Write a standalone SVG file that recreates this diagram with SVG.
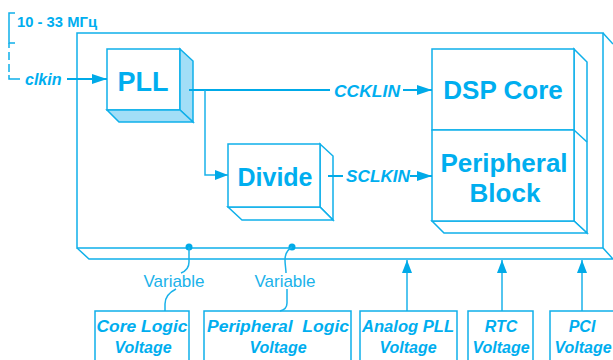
<svg xmlns="http://www.w3.org/2000/svg" width="613" height="360" viewBox="0 0 613 360">
<defs>
<style>
.ln{fill:none;stroke:#0FB0EA;stroke-width:1.5}
.face{fill:#fff;stroke:#0FB0EA;stroke-width:1.5;stroke-linejoin:miter}
.shade{fill:#A2DEF7;stroke:#0FB0EA;stroke-width:1.5}
.cn{fill:none;stroke:#00AAE8;stroke-width:2}
.cn1{fill:none;stroke:#1AB2EA;stroke-width:1.5}
.big{font-family:"Liberation Sans",Arial,sans-serif;font-weight:bold;fill:#00AEEF;text-anchor:middle}
.sig{font-family:"Liberation Sans",Arial,sans-serif;font-weight:bold;font-style:italic;fill:#00AEEF}
.var{font-family:"Liberation Sans",Arial,sans-serif;fill:#1AB2EA;font-size:17px;text-anchor:middle}
.vl{font-family:"Liberation Sans",Arial,sans-serif;font-weight:bold;font-style:italic;fill:#00AEEF;font-size:16px;text-anchor:middle}
</style>
<marker id="ah" markerUnits="userSpaceOnUse" markerWidth="16" markerHeight="12" refX="15" refY="5" orient="auto">
<path d="M0,0 L15,5 L0,10 Z" fill="#00AAE8"/>
</marker>
<marker id="au" markerUnits="userSpaceOnUse" markerWidth="14" markerHeight="12" refX="13" refY="5" orient="auto">
<path d="M0,0 L13,5 L0,10 Z" fill="#00AAE8"/>
</marker>
</defs>
<rect width="613" height="360" fill="#fff"/>

<g id="chip">
<path class="ln" d="M77,33 H603 V248 H77 Z"/>
<path class="ln" d="M603,33 L613,44 M77,248 L89,259 H613 M603,248 L613,259"/>
</g>

<g id="freq">
<path class="ln" d="M15,13 H9 V43 H15"/>
<text class="sig" style="font-style:normal" x="17" y="27" font-size="14" textLength="80" lengthAdjust="spacingAndGlyphs">10 - 33 МГц</text>
</g>

<g id="pll">
<rect class="face" x="107" y="49" width="73" height="61"/>
<polygon class="shade" points="180,49 193,61 193,122 180,110"/>
<polygon class="shade" points="107,110 180,110 193,122 119,122"/>
<text class="big" x="143" y="91" font-size="28" textLength="51" lengthAdjust="spacingAndGlyphs">PLL</text>
</g>

<g id="divide">
<polygon class="face" points="320,144 333,156 333,220 320,207"/>
<polygon class="face" points="228,207 320,207 333,220 242,220"/>
<rect class="face" x="228" y="144" width="92" height="63"/>
<text class="big" x="275" y="186" font-size="25">Divide</text>
</g>

<g id="dsp">
<polygon class="face" points="574,49 587,62 587,233 574,221"/>
<polygon class="face" points="432,221 574,221 587,233 444,233"/>
<path class="ln" d="M574,130 L587,142"/>
<rect class="face" x="432" y="49" width="142" height="81"/>
<text class="big" x="503" y="99" font-size="26">DSP Core</text>
</g>

<g id="peripheral">
<rect class="face" x="432" y="130" width="142" height="91"/>
<text class="big" x="504" y="172" font-size="26">Peripheral</text>
<text class="big" x="505" y="202" font-size="26">Block</text>
</g>

<g id="connectors">
<path class="ln" d="M9,43 V48 M9,52 V60 M9,64 V72 M9,75 V79 H20"/>
<text class="sig" x="25" y="85" font-size="16">clkin</text>
<path class="cn" d="M67,79 H107" marker-end="url(#ah)"/>

<path class="cn" d="M189,90 H330"/>
<text class="sig" x="334" y="97" font-size="17" textLength="66" lengthAdjust="spacingAndGlyphs">CCKLIN</text>
<path class="cn" d="M403,90 H432" marker-end="url(#ah)"/>

<path class="cn1" d="M205,90 V175 H228" marker-end="url(#au)"/>

<path class="cn" d="M328,176 H343"/>
<text class="sig" x="346" y="182" font-size="17" textLength="64" lengthAdjust="spacingAndGlyphs">SCLKIN</text>
<path class="cn" d="M410,176 H432" marker-end="url(#ah)"/>

<circle cx="189" cy="247" r="3.5" fill="#00AAE8"/>
<circle cx="292" cy="247" r="3.5" fill="#00AAE8"/>
<path class="cn1" d="M189,247 V262 C189,268 186,271 181,273"/>
<path class="cn1" d="M176,289 C168,293 165,298 165,304 V311"/>
<path class="cn1" d="M292,247 C287,250 285,254 285,260 C285,265 286,269 286,273"/>
<path class="cn1" d="M287,289 V303 C287,307 284,310 280,311"/>
<text class="var" x="174" y="287">Variable</text>
<text class="var" x="285" y="287">Variable</text>

<path class="cn1" d="M407,311 V260" marker-end="url(#au)"/>
<path class="cn1" d="M502,311 V260" marker-end="url(#au)"/>
<path class="cn1" d="M582,311 V260" marker-end="url(#au)"/>
</g>

<g id="core-logic">
<path class="ln" d="M95,361 V311 H189 V361"/>
<text class="vl" x="142" y="332" textLength="91" lengthAdjust="spacingAndGlyphs">Core Logic</text>
<text class="vl" x="143" y="353">Voltage</text>
</g>
<g id="peripheral-logic">
<path class="ln" d="M204,361 V311 H351 V361"/>
<text class="vl" x="278" y="332" textLength="142" lengthAdjust="spacingAndGlyphs" xml:space="preserve">Peripheral  Logic</text>
<text class="vl" x="278" y="353">Voltage</text>
</g>
<g id="analog-pll">
<path class="ln" d="M360,361 V311 H457 V361"/>
<text class="vl" x="408" y="332" textLength="92" lengthAdjust="spacingAndGlyphs">Analog PLL</text>
<text class="vl" x="408" y="353">Voltage</text>
</g>
<g id="rtc">
<path class="ln" d="M468,361 V311 H533 V361"/>
<text class="vl" x="501" y="332">RTC</text>
<text class="vl" x="501" y="353">Voltage</text>
</g>
<g id="pci">
<path class="ln" d="M550,361 V311 H614"/>
<text class="vl" x="582" y="332">PCI</text>
<text class="vl" x="583" y="353">Voltage</text>
</g>
</svg>
